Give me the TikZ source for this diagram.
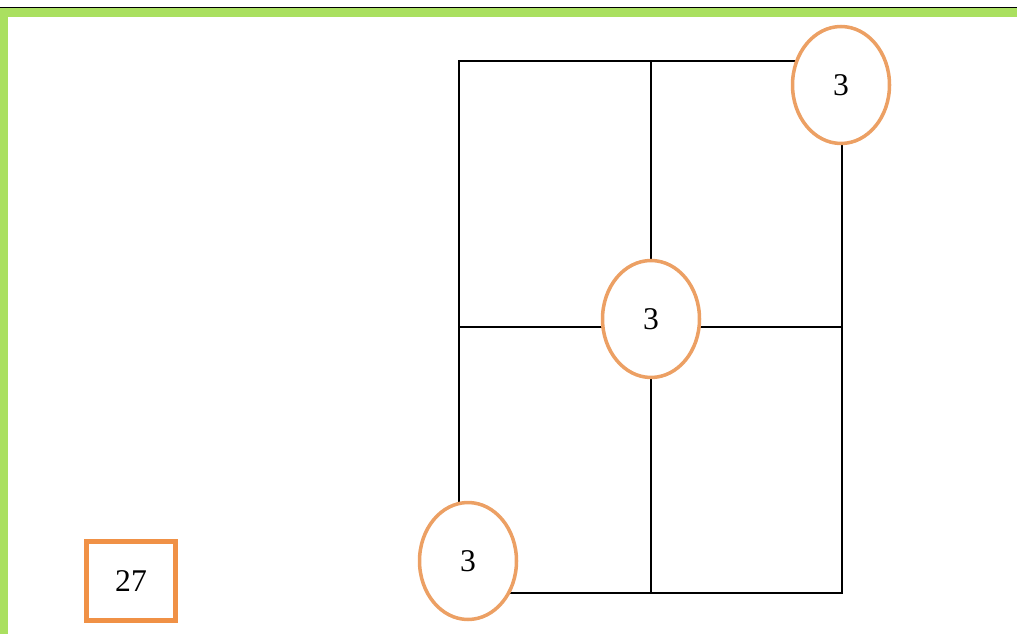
\documentclass[tikz,border=0pt]{standalone}
\usepackage{fontspec}
\setmainfont{Liberation Serif}
\usetikzlibrary{positioning,shapes.geometric}
\definecolor{frame}{RGB}{170,224,96}
\definecolor{ring}{RGB}{236,160,100}
\definecolor{boxor}{RGB}{240,145,70}

\begin{document}
\begin{tikzpicture}[
  x=0.02cm, y=-0.02cm,
  every node/.style = {font=\fontsize{18}{21}\selectfont},
  %% grid lines
  grid/.style  = {draw=black, line width=1.1pt},
  %% number rings
  ring/.style  = {ellipse, draw=ring, line width=2pt, fill=white,
                  minimum width=1.94cm, minimum height=2.34cm, inner sep=0pt},
  total/.style = {rectangle, draw=boxor, line width=2.6pt, fill=white,
                  minimum width=1.78cm, minimum height=1.58cm, inner sep=0pt}
]
\useasboundingbox (0,0) rectangle (1017,634);

%% ---- frame ----
\fill[frame] (0,8) rectangle (1017,17.5);
\fill[frame] (0,8) rectangle (8,634);
\draw[black, line width=0.9pt] (0,7.5) -- (1017,7.5);

%% ---- grid corners ----
\coordinate (TL) at (459,61);
\coordinate (TM) at (651,61);
\coordinate (TR) at (842,61);
\coordinate (ML) at (459,327);
\coordinate (MR) at (842,327);
\coordinate (BL) at (459,593);
\coordinate (BM) at (651,593);
\coordinate (BR) at (842,593);

%% ---- grid ----
\draw[grid] (TL) -- (TR) -- (BR) -- (BL) -- cycle;
\draw[grid] (TM) -- (BM);
\draw[grid] (ML) -- (MR);

%% ---- rings ----
\node[ring] (R1) at (841,85)  {3};
\node[ring] (R2) at (651,319) {3};
\node[ring] (R3) at (468,561) {3};

%% ---- total ----
\node[total] (T) at (131,581) {27};

\end{tikzpicture}
\end{document}
